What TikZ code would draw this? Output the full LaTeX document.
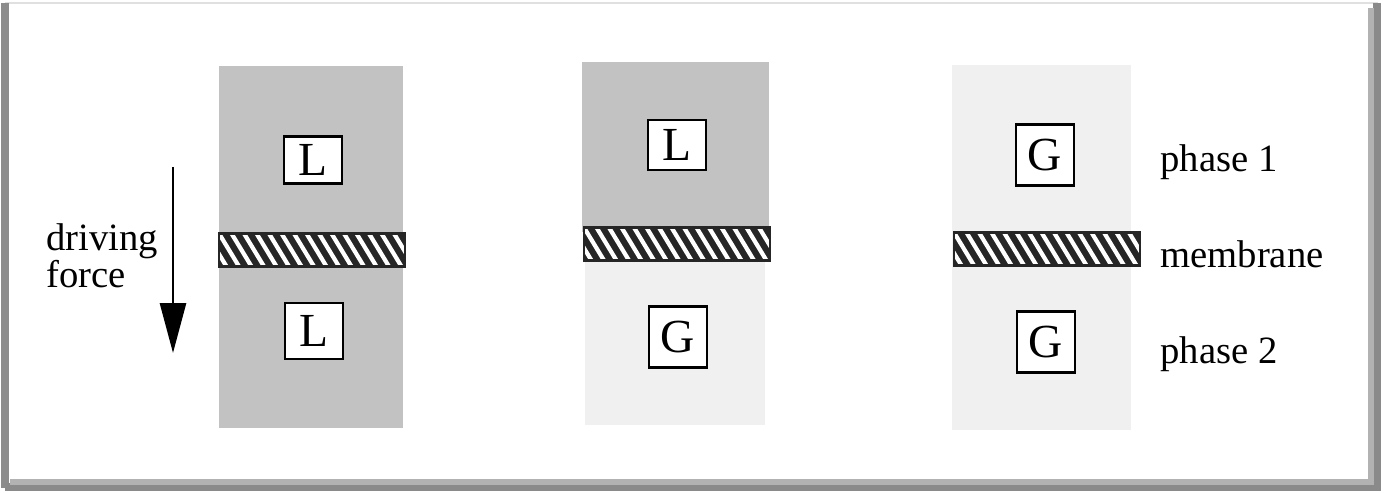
\documentclass[tikz,border=0pt]{standalone}
\usepackage{fontspec}
\setmainfont{Liberation Serif}
\usepackage{tikz}
\usetikzlibrary{positioning, arrows.meta}
\definecolor{phaseLiquid}{HTML}{C2C2C2}
\definecolor{phaseGas}{HTML}{F0F0F0}
\definecolor{frameShadow}{HTML}{8A8A8A}

\begin{document}
\begin{tikzpicture}[x=0.02cm, y=-0.02cm, font=\fontsize{22}{25}\selectfont,
  species/.style={draw=black, fill=white, line width=1.6pt,
    minimum width=1.16cm, inner sep=0pt, font=\fontsize{27}{30}\selectfont},
  membrane/.style={draw=black!85, fill=black!85, line width=1.2pt,
    minimum width=3.72cm, minimum height=0.66cm, inner sep=0pt,
    path picture={
      \foreach \k in {-3,...,16}
        \draw[white, line width=2.4pt]
          ([xshift=\k*0.25cm]path picture bounding box.north west)
          -- ++(0.40cm,-0.66cm);
    }},
  sidelabel/.style={anchor=west, inner sep=0pt}
]

\useasboundingbox (0,0) rectangle (1385,493);

% frame
\fill[white] (0,0) rectangle (1385,493);
\draw[black!12, line width=1pt] (5,3) -- (1378,3);
\draw[black!45, line width=4pt] (5,3) -- (5,488);
\draw[frameShadow, line width=5pt] (1377,3) -- (1377,487) -- (5,487);
\draw[black!30, line width=3pt] (1371,8) -- (1371,482) -- (10,482);

% phases
\fill[phaseLiquid] (219,66) rectangle (403,428);
\fill[phaseLiquid] (582,62) rectangle (769,232);
\fill[phaseGas] (585,262) rectangle (765,425);
\fill[phaseGas] (952,65) rectangle (1131,430);

% membranes
\node[membrane] (mem1) at (312,250) {};
\node[membrane] (mem2) at (677,244) {};
\node[membrane] (mem3) at (1047,249) {};

% species
\node[species, minimum height=0.94cm] (liq1a) at (313,160) {L};
\node[species, minimum height=1.12cm] (liq1b) at (314,331) {L};
\node[species, minimum height=1.0cm] (liq2a) at (677,145) {L};
\node[species, minimum height=1.22cm] (gas2b) at (678,337) {G};
\node[species, minimum height=1.22cm] (gas3a) at (1045,155) {G};
\node[species, minimum height=1.22cm] (gas3b) at (1046,342) {G};

% labels
\node[sidelabel] (ph1) at (1160,162) {phase 1};
\node[sidelabel] (memlabel) at (1160,254) {membrane};
\node[sidelabel] (ph2) at (1160,354) {phase 2};

\node[anchor=west, align=left, inner sep=0pt] (drive) at (46,256)
{driving\\[-4pt]force};

% driving force
\coordinate (fTop) at (173,167);
\coordinate (fBot) at (173,353);
\draw[line width=1.6pt, -{Triangle[length=1cm, width=0.52cm]}] (fTop) -- (fBot);

\end{tikzpicture}
\end{document}
